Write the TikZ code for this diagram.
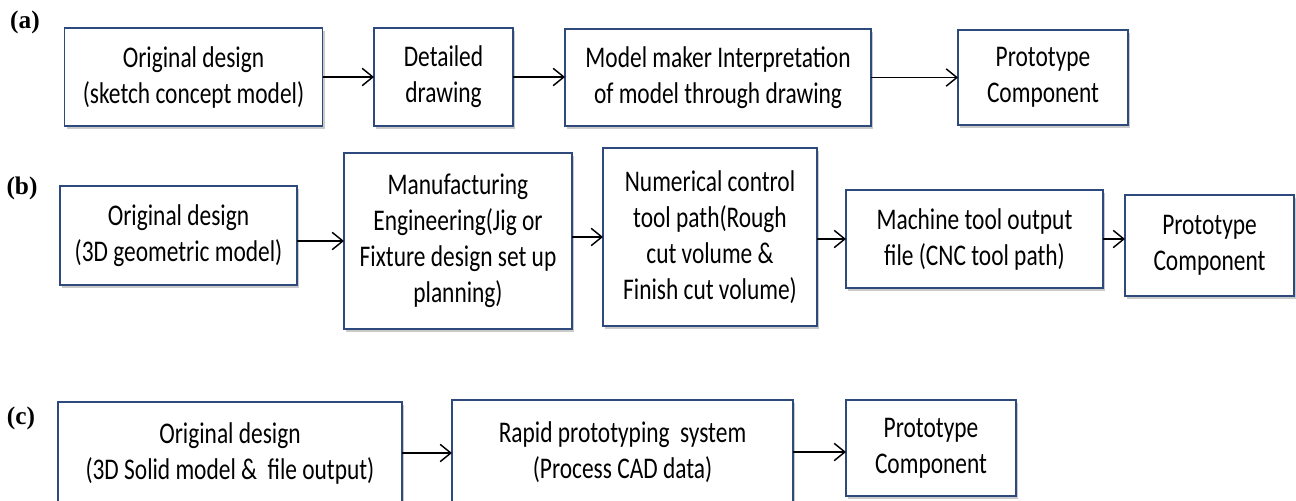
\documentclass[tikz,border=0pt]{standalone}
\usepackage{fontspec}
\setmainfont{Carlito}[FakeStretch=0.78]
\newfontfamily\tagfont{Liberation Serif}
\usetikzlibrary{arrows.meta,shadows}

\definecolor{boxline}{HTML}{2E4A7D}

\tikzset{
  stage/.style={draw=boxline, line width=1.4pt, fill=white, align=center,
    inner sep=0pt, outer sep=0pt,
    font=\fontsize{22.5pt}{27pt}\selectfont,
    drop shadow={shadow xshift=1.5pt, shadow yshift=-2.2pt, opacity=0.35, fill=black!60}},
  flow/.style={line width=1.2pt, -{Straight Barb[length=8pt,width=13pt,line width=1.1pt]}},
  tag/.style={font=\tagfont\bfseries\fontsize{19pt}{22pt}\selectfont, inner sep=0pt}
}

\begin{document}
\begin{tikzpicture}[x=0.75pt, y=-0.75pt]
  \useasboundingbox (0,0) rectangle (1296,500);
  \clip (0,0) rectangle (1296,500);

  % row (a): conventional prototyping
  \node[tag] (ta) at (25,22) {(a)};
  \node[stage, minimum width=193.5pt, minimum height=73.5pt] (a1) at (193.5,77)
    {Original design\\(sketch concept model)};
  \node[stage, minimum width=104.25pt, minimum height=73.5pt] (a2) at (443.5,77)
    {Detailed\\drawing};
  \node[stage, minimum width=229.5pt, minimum height=72.75pt] (a3) at (718,77.5)
    {Model maker Interpretation\\of model through drawing};
  \node[stage, minimum width=127.5pt, minimum height=71.25pt] (a4) at (1043,77.5)
    {Prototype\\Component};
  \draw[flow] (a1.east) -- (a2.west |- a1.east);
  \draw[flow] (a2.east) -- (a3.west |- a2.east);
  \draw[flow] (a3.east) -- (a4.west |- a3.east);

  % row (b): CNC based prototyping
  \node[tag] (tb) at (22,188) {(b)};
  \node[stage, minimum width=177.75pt, minimum height=74.25pt] (b1) at (178.5,235.5)
    {Original design\\(3D geometric model)};
  \node[stage, minimum width=171pt, minimum height=132pt] (b2) at (458,241)
    {Manufacturing\\Engineering(Jig or\\Fixture design set up\\planning)};
  \node[stage, minimum width=160.5pt, minimum height=133.5pt] (b3) at (710,237)
    {Numerical control\\tool path(Rough\\cut volume \&\\Finish cut volume)};
  \node[stage, minimum width=192.75pt, minimum height=73.5pt] (b4) at (974.5,239)
    {Machine tool output\\file (CNC tool path)};
  \node[stage, minimum width=126.75pt, minimum height=75.75pt] (b5) at (1209.5,245.5)
    {Prototype\\Component};
  \draw[flow] (b1.east |- b2.west) -- (b2.west);
  \draw[flow] (b2.east |- b3.west) -- (b3.west);
  \draw[flow] (b3.east |- b4.west) -- (b4.west);
  \draw[flow] (b4.east) -- (b5.west |- b4.east);

  % row (c): rapid prototyping
  \node[tag] (tc) at (21,418) {(c)};
  \node[stage, minimum width=258pt, minimum height=76.5pt] (c1) at (230,453)
    {Original design\\(3D Solid model \&\ \ file output)};
  \node[stage, minimum width=255.75pt, minimum height=78pt] (c2) at (622.5,452)
    {Rapid prototyping\ \ system\\(Process CAD data)};
  \node[stage, minimum width=127.5pt, minimum height=72pt] (c3) at (931,448)
    {Prototype\\Component};
  \draw[flow] (c1.east) -- (c2.west |- c1.east);
  \draw[flow] (c2.east) -- (c3.west |- c2.east);
\end{tikzpicture}
\end{document}
